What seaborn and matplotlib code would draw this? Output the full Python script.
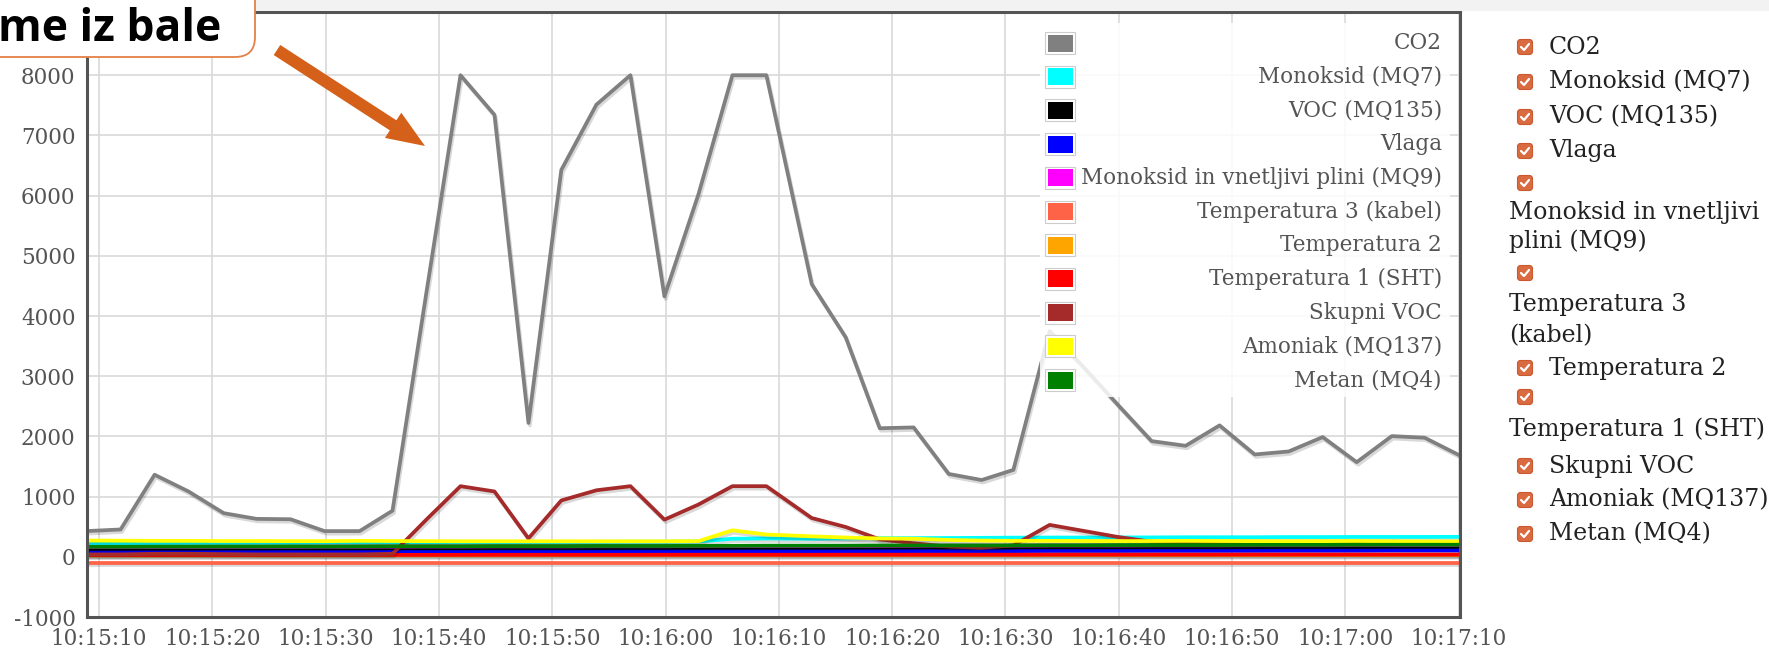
import numpy as np
import pandas as pd

import matplotlib
matplotlib.use('agg')
import matplotlib.pyplot as plt
import matplotlib.dates as mdates
import matplotlib.patheffects as pe
from matplotlib.patches import FancyArrow, FancyBboxPatch, Rectangle
from matplotlib.lines import Line2D
from matplotlib.transforms import IdentityTransform
import seaborn as sns

# sample times (~3 s apart)
times = ['10:15:08.9', '10:15:11.9', '10:15:14.9', '10:15:17.9', '10:15:21.0', '10:15:23.9',
         '10:15:26.9', '10:15:29.9', '10:15:33.0', '10:15:35.9', '10:15:38.9', '10:15:41.9',
         '10:15:44.9', '10:15:47.9', '10:15:50.8', '10:15:53.9', '10:15:56.9', '10:15:59.9',
         '10:16:02.9', '10:16:05.9', '10:16:08.9', '10:16:12.9', '10:16:15.9', '10:16:18.9',
         '10:16:21.9', '10:16:25.0', '10:16:27.9', '10:16:30.7', '10:16:33.9', '10:16:36.9',
         '10:16:39.9', '10:16:42.9', '10:16:45.9', '10:16:48.9', '10:16:52.0', '10:16:55.0',
         '10:16:58.0', '10:17:01.0', '10:17:04.1', '10:17:07.0', '10:17:10.1']

co2 = [427, 454, 1363, 1085, 725, 630, 624, 427, 427, 766, 4400, 8000, 7342, 2224, 6427,
       7512, 8000, 4325, 6020, 8000, 8000, 4530, 3647, 2136, 2149, 1376, 1275, 1444, 3750,
       3150, 2530, 1922, 1844, 2183, 1700, 1750, 1989, 1572, 2005, 1978, 1683]
monoksid_mq7 = [225, 225, 228, 230, 230, 232, 232, 235, 235, 238, 240, 240, 242, 245, 245,
                248, 250, 250, 255, 300, 305, 300, 305, 310, 310, 312, 315, 318, 320, 320,
                322, 322, 325, 325, 325, 328, 328, 330, 330, 330, 332]
voc_mq135 = [105, 105, 108, 108, 110, 110, 112, 112, 112, 115, 115, 118, 118, 120, 120,
             120, 122, 122, 125, 125, 128, 128, 130, 130, 132, 132, 135, 135, 135, 138,
             138, 140, 140, 140, 142, 142, 142, 145, 145, 145, 145]
vlaga = [70, 72, 75, 75, 78, 78, 80, 80, 80, 82, 82, 82, 85, 85, 85, 85, 88, 88, 88, 90,
         90, 90, 92, 92, 95, 95, 95, 95, 98, 98, 98, 100, 100, 100, 100, 102, 102, 102,
         105, 105, 105]
mq9 = [160, 160, 162, 162, 165, 165, 165, 168, 168, 168, 170, 170, 172, 172, 172, 175,
       175, 175, 178, 178, 180, 180, 180, 182, 182, 185, 185, 185, 188, 188, 188, 190,
       190, 190, 192, 192, 192, 195, 195, 195, 195]
temp3 = [-100, -100, -100, -100, -100, -100, -100, -100, -100, -100, -100, -100, -100,
         -100, -100, -100, -100, -100, -100, -100, -100, -100, -100, -100, -100, -100,
         -100, -100, -100, -100, -100, -100, -100, -100, -100, -100, -100, -100, -100,
         -100, -100]
temp2 = [22, 22, 22, 23, 23, 23, 23, 23, 24, 24, 24, 24, 24, 24, 25, 25, 25, 25, 25, 25,
         25, 26, 26, 26, 26, 26, 26, 26, 27, 27, 27, 27, 27, 27, 27, 27, 28, 28, 28, 28, 28]
temp1 = [30, 30, 30, 31, 31, 31, 31, 32, 32, 32, 32, 32, 33, 33, 33, 33, 33, 34, 34, 34,
         34, 34, 35, 35, 35, 35, 35, 35, 36, 36, 36, 36, 36, 36, 37, 37, 37, 37, 37, 37, 37]
skupni_voc = [40, 40, 50, 50, 45, 40, 40, 40, 40, 50, 620, 1173, 1085, 305, 936, 1105,
              1173, 617, 868, 1173, 1173, 644, 495, 290, 224, 170, 150, 190, 530, 430,
              330, 250, 240, 230, 235, 225, 230, 220, 250, 240, 230]
amoniak = [270, 268, 265, 265, 262, 262, 260, 260, 265, 262, 260, 258, 258, 258, 258, 258,
           258, 258, 260, 440, 370, 340, 320, 305, 300, 280, 270, 265, 265, 262, 260, 262,
           265, 262, 260, 258, 260, 262, 258, 255, 255]
metan = [165, 165, 168, 168, 170, 170, 172, 170, 172, 175, 175, 175, 178, 178, 178, 180,
         180, 180, 182, 182, 185, 185, 185, 188, 188, 190, 190, 190, 192, 192, 195, 195,
         195, 195, 198, 198, 198, 200, 200, 200, 200]

names = ['CO2', 'Monoksid (MQ7)', 'VOC (MQ135)', 'Vlaga', 'Monoksid in vnetljivi plini (MQ9)',
         'Temperatura 3 (kabel)', 'Temperatura 2', 'Temperatura 1 (SHT)', 'Skupni VOC',
         'Amoniak (MQ137)', 'Metan (MQ4)']
colors = ['#808080', '#00ffff', '#000000', '#0000ff', '#ff00ff', '#ff6347', '#ffa500',
          '#ff0000', '#a52a2a', '#ffff00', '#008000']
values = [co2, monoksid_mq7, voc_mq135, vlaga, mq9, temp3, temp2, temp1, skupni_voc,
          amoniak, metan]

W, H = 1769, 651

t = pd.to_datetime(['2016-06-13 ' + s for s in times])
df = pd.concat([pd.DataFrame({'time': t, 'value': v, 'series': n})
                for n, v in zip(names, values)], ignore_index=True)

sns.set_style('white')
plt.rcParams['font.family'] = ['DejaVu Serif']
plt.rcParams['axes.unicode_minus'] = False

fig = plt.figure(figsize=(W / 100, H / 100), dpi=100)
ax = fig.add_axes([86.6 / W, 34 / H, 1373.2 / W, 605 / H])

sns.lineplot(data=df, x='time', y='value', hue='series', hue_order=names,
             palette=dict(zip(names, colors)), estimator=None, sort=False,
             lw=2.7, legend=False, ax=ax)
for ln in ax.lines:
    ln.set_path_effects([pe.SimpleLineShadow(offset=(1, -1.8), alpha=0.15, shadow_color='black'),
                         pe.Normal()])

ax.set_xlim(t[0], t[-1])
ax.set_ylim(-1000, 9050)
ax.set_yticks(range(-1000, 9000, 1000))
ax.xaxis.set_major_locator(mdates.SecondLocator(bysecond=range(0, 60, 10)))
ax.xaxis.set_major_formatter(mdates.DateFormatter('%H:%M:%S'))
ax.set_xlabel('')
ax.set_ylabel('')
ax.grid(True, color='#d9d9d9', lw=1.2)
ax.set_axisbelow(True)
for s in ax.spines.values():
    s.set_visible(True)
    s.set_color('#545454')
    s.set_linewidth(2.2)
ax.tick_params(length=0, labelsize=15.5, labelcolor='#545454', pad=8)

px = IdentityTransform()

# light strip above the plot
fig.patches.append(Rectangle((0, H - 11), W, 11, transform=px, fc='#f2f2f2', ec='none', zorder=0.5))

# legend inside the plot: swatches left, labels right-aligned
fig.patches.append(Rectangle((1040, H - 397), 410, 374, transform=px, fc='white',
                             ec='none', alpha=0.85, zorder=2))
for i, (n, c) in enumerate(zip(names, colors)):
    cy = H - (43 + 33.7 * i)
    fig.patches.append(Rectangle((1045, cy - 11), 30, 22, transform=px, fc='white',
                                 ec='#cccccc', lw=0.8, zorder=2.1))
    fig.patches.append(Rectangle((1047.5, cy - 8.5), 25, 17, transform=px, fc=c,
                                 ec='none', zorder=2.2))
    fig.text(1442, cy, n, transform=px, ha='right', va='center', fontsize=15.5,
             color='#545454', zorder=2.3)

# sidebar with checkboxes
def checkbox(cx, cy):
    y = H - cy
    fig.patches.append(FancyBboxPatch((cx - 7.5, y - 7.5), 15, 15,
                                      boxstyle='round,pad=0,rounding_size=3',
                                      transform=px, fc='#da6a40', ec='#c9592f', lw=0.8))
    fig.lines.append(Line2D([cx - 4, cx - 1, cx + 4], [y, y - 3, y + 3], transform=px,
                            color='white', lw=1.6, solid_capstyle='round'))

sidebar = [(True, 'CO2', 47), (True, 'Monoksid (MQ7)', 82), (True, 'VOC (MQ135)', 117),
           (True, 'Vlaga', 151), (True, '', 183), (False, 'Monoksid in vnetljivi', 213),
           (False, 'plini (MQ9)', 241), (True, '', 273), (False, 'Temperatura 3', 305),
           (False, '(kabel)', 336), (True, 'Temperatura 2', 368), (True, '', 397),
           (False, 'Temperatura 1 (SHT)', 429), (True, 'Skupni VOC', 466),
           (True, 'Amoniak (MQ137)', 500), (True, 'Metan (MQ4)', 534)]
for box, label, cy in sidebar:
    if box:
        checkbox(1525, cy)
        x0 = 1549
    else:
        x0 = 1509
    if label:
        fig.text(x0 / W, 1 - cy / H, label, fontsize=17, color='#222222', va='center')

# callout box and arrow
fig.patches.append(FancyBboxPatch((-40, H - 57), 295, 100, boxstyle='round,pad=0,rounding_size=20',
                                  transform=px, fc='white', ec='#e38148', lw=1.3, zorder=5))
fig.text(-2, H - 41, 'me iz bale', transform=px, fontsize=32, fontweight='bold',
         family=['Open Sans', 'DejaVu Sans'], color='black', va='baseline', zorder=6)
fig.patches.append(FancyArrow(277, H - 50, 148, -96, width=12, head_width=30, head_length=38,
                              length_includes_head=True, transform=px, fc='#d4601a',
                              ec='none', zorder=6))

fig.savefig('out.png', dpi=100)
